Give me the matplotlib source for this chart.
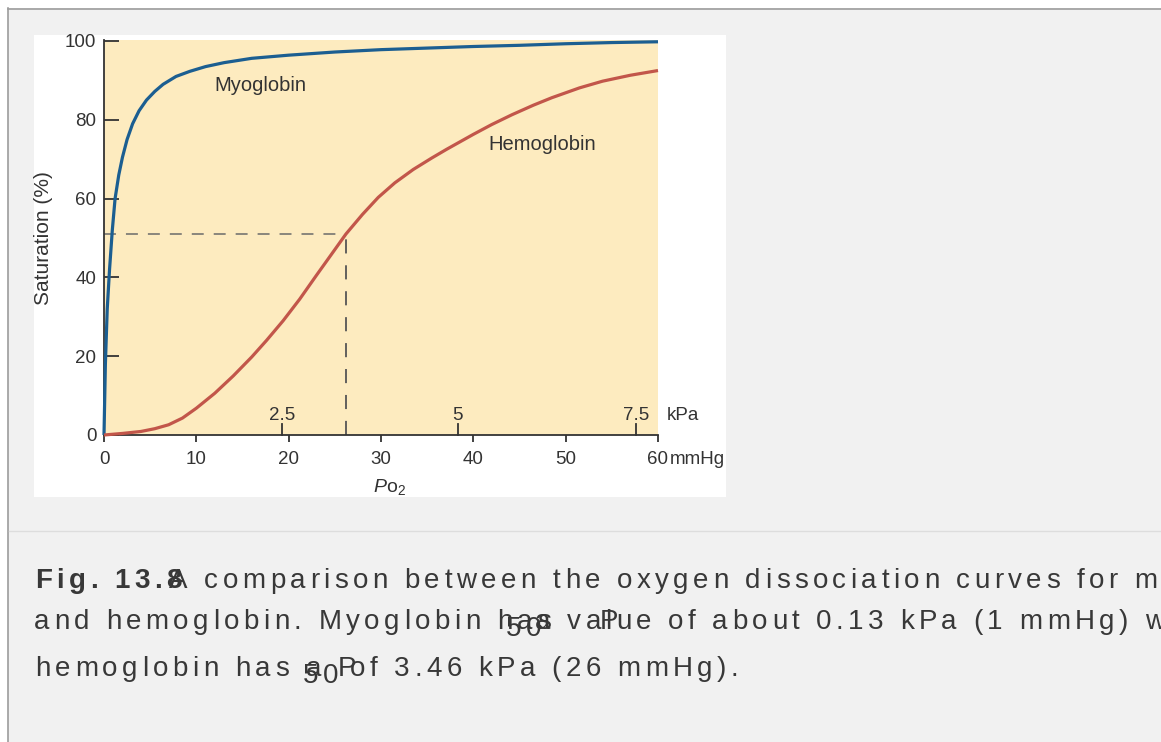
import matplotlib
matplotlib.use('Agg')
import matplotlib.pyplot as plt
import matplotlib.transforms as mtransforms
from matplotlib import font_manager
from matplotlib.ft2font import FT2Font
from matplotlib.patches import Rectangle

try:
    from matplotlib.ft2font import LoadFlags
    NO_HINT = LoadFlags.NO_HINTING
except ImportError:
    from matplotlib.ft2font import LOAD_NO_HINTING as NO_HINT

plt.rcParams['font.family'] = ['Liberation Sans', 'DejaVu Sans']
plt.rcParams['mathtext.fontset'] = 'custom'
plt.rcParams['mathtext.it'] = 'Liberation Sans:italic'
plt.rcParams['mathtext.rm'] = 'Liberation Sans'

# values (PO2 in mmHg, saturation in %)
mb_po2 = [0, 0.15, 0.35, 0.6, 0.9, 1.2, 1.6, 2.0, 2.5, 3.1, 3.8, 4.6, 5.5, 6.4,
          7.8, 9.3, 11, 13, 16, 20, 25, 30, 35, 40, 45, 50, 55, 60]
mb_sat = [0, 18, 32, 42, 52, 60, 66, 70.5, 75, 79, 82.3, 85, 87.2, 89,
          91, 92.3, 93.5, 94.5, 95.6, 96.4, 97.2, 97.8, 98.2, 98.6, 98.9, 99.3, 99.6, 99.8]

hb_po2 = [0, 2, 4, 5.5, 7, 8.5, 10, 12, 14, 16, 17.6, 19.4, 21.2, 23, 24.8, 26.2,
          28, 29.7, 31.5, 33.5, 35.5, 37.1, 40, 42, 44.2, 46.5, 48.5, 51.5, 54, 57, 60]
hb_sat = [0, 0.4, 0.9, 1.6, 2.6, 4.3, 6.8, 10.6, 15, 19.8, 24, 29, 34.5, 40.5, 46.4, 51,
          56, 60.3, 64, 67.4, 70.3, 72.5, 76.3, 78.8, 81.3, 83.7, 85.6, 88.1, 89.8, 91.3, 92.5]

p50_hb = 26.2
sat_half = 51

mmhg_ticks = [0, 10, 20, 30, 40, 50, 60]
sat_ticks = [0, 20, 40, 60, 80, 100]
kpa_labels = ['2.5', '5', '7.5']
kpa_pos = [19.3, 38.3, 57.6]   # where the kPa marks sit on the mmHg scale

caption = [
    # (x px, baseline px, text, bold, baseline shift px)
    (35, 588, 'Fig. 13.8', True, 0),
    (169, 588, 'A comparison between the oxygen dissociation curves for myoglobin', False, 0),
    (34, 629, 'and hemoglobin. Myoglobin has', False, 0),
    (506, 629, '50', False, 7),
    (535, 629, 'a value of about 0.13 kPa (1 mmHg) while myoglobin', False, 0),
    (600, 629, 'P', False, 0),
    (35, 676, 'hemoglobin has a', False, 0),
    (303, 676, '50', False, 7),
    (338, 676, 'P', False, 0),
    (350, 676, 'of 3.46 kPa (26 mmHg).', False, 0),
]

W, H = 1161, 742
TXT = '#333333'
CAP = '#383838'

fig = plt.figure(figsize=(W / 100, H / 100), dpi=100)
fig.patch.set_facecolor('white')

# page background in pixel coordinates
bg = fig.add_axes([0, 0, 1, 1])
bg.set_xlim(0, W)
bg.set_ylim(H, 0)
bg.axis('off')
bg.add_patch(Rectangle((8, 8), W, H, facecolor='#f1f1f1', edgecolor='none'))
bg.plot([8, W], [8.5, 8.5], color='#9c9c9c', lw=1.2)
bg.plot([8, 8], [8, H], color='#9c9c9c', lw=1.2)
bg.plot([9, W], [531, 531], color='#dddddd', lw=1)
bg.add_patch(Rectangle((34, 35), 692, 462, facecolor='white', edgecolor='none'))


def px_box(x0, y0, x1, y1):
    return [x0 / W, 1 - y1 / H, (x1 - x0) / W, (y1 - y0) / H]


ax = fig.add_axes(px_box(104, 40, 658, 435))
ax.set_facecolor('#fdebbf')
ax.set_xlim(0, 60)
ax.set_ylim(0, 100.25)
for s in ['top', 'right']:
    ax.spines[s].set_visible(False)
for s in ['left', 'bottom']:
    ax.spines[s].set_color(TXT)
    ax.spines[s].set_linewidth(1.3)

dash = (0, (8.6 / 1.1, 7.2 / 1.1))
ax.plot([0, p50_hb], [sat_half, sat_half], color='#6a6a6a', lw=1.1, ls=dash, zorder=2)
ax.plot([p50_hb, p50_hb], [0, sat_half], color='#555555', lw=1.3, ls=dash, zorder=2)

ax.plot(mb_po2, mb_sat, color='#1b5e91', lw=2.3, zorder=3, clip_on=False,
        solid_capstyle='butt', solid_joinstyle='round')
ax.plot(hb_po2, hb_sat, color='#c2564a', lw=2.3, zorder=3, clip_on=False,
        solid_capstyle='butt', solid_joinstyle='round')

ax.text(11.9, 87.2, 'Myoglobin', fontsize=14.5, color=TXT, ha='left', va='baseline')
ax.text(41.6, 72.4, 'Hemoglobin', fontsize=14.5, color=TXT, ha='left', va='baseline')

ax.set_yticks(sat_ticks)
ax.set_yticklabels([str(v) for v in sat_ticks])
ax.tick_params(axis='y', direction='in', length=10.8, width=1.3, pad=5.5,
               labelsize=13.5, colors=TXT)
ax.set_xticks(mmhg_ticks)
ax.set_xticklabels([str(v) for v in mmhg_ticks])
ax.tick_params(axis='x', direction='out', length=5, width=1.3, pad=6.5,
               labelsize=13.5, colors=TXT)

# kPa scale drawn on top of the mmHg axis
blend = mtransforms.blended_transform_factory(ax.transData, ax.transAxes)
for lab, p in zip(kpa_labels, kpa_pos):
    ax.plot([p, p], [0, 11 / 395], transform=blend, color=TXT, lw=1.3, clip_on=False)
    ax.text(p, 15 / 395, lab, transform=blend, fontsize=13.5, color=TXT,
            ha='center', va='baseline')
ax.text(1 + 9 / 554, 15 / 395, 'kPa', transform=ax.transAxes, fontsize=13.5,
        color=TXT, ha='left', va='baseline')
ax.text(1 + 12 / 554, -16 / 395, 'mmHg', transform=ax.transAxes, fontsize=13.5,
        color=TXT, ha='left', va='top')

bg.text(43.5, 238, 'Saturation (%)', rotation=90, fontsize=15, color=TXT,
        ha='center', va='center')
bg.text(373, 492, r'$\mathit{P}\mathrm{o}_{\mathrm{2}}$', fontsize=14, color=TXT,
        ha='left', va='baseline')

# caption with letter spacing, laid out glyph by glyph
TRACK = 4.46
reg = font_manager.FontProperties(family='Liberation Sans', size=20)
bold = font_manager.FontProperties(family='Liberation Sans', size=20, weight='bold')
fonts = {}
for key, prop in [(False, reg), (True, bold)]:
    f = FT2Font(font_manager.findfont(prop))
    f.set_size(20, 100)
    fonts[key] = f


def tracked(x, y, s, is_bold):
    f = fonts[is_bold]
    prop = bold if is_bold else reg
    for ch in s:
        g = f.load_char(ord(ch), flags=NO_HINT)
        if ch != ' ':
            bg.text(x, y, ch, fontproperties=prop, color=CAP,
                    ha='left', va='baseline')
        x += g.linearHoriAdvance / 65536 + TRACK
    return x


for x, y, s, b, dy in caption:
    tracked(x, y + dy, s, b)

fig.savefig('out.png', dpi=100, facecolor=fig.get_facecolor())
